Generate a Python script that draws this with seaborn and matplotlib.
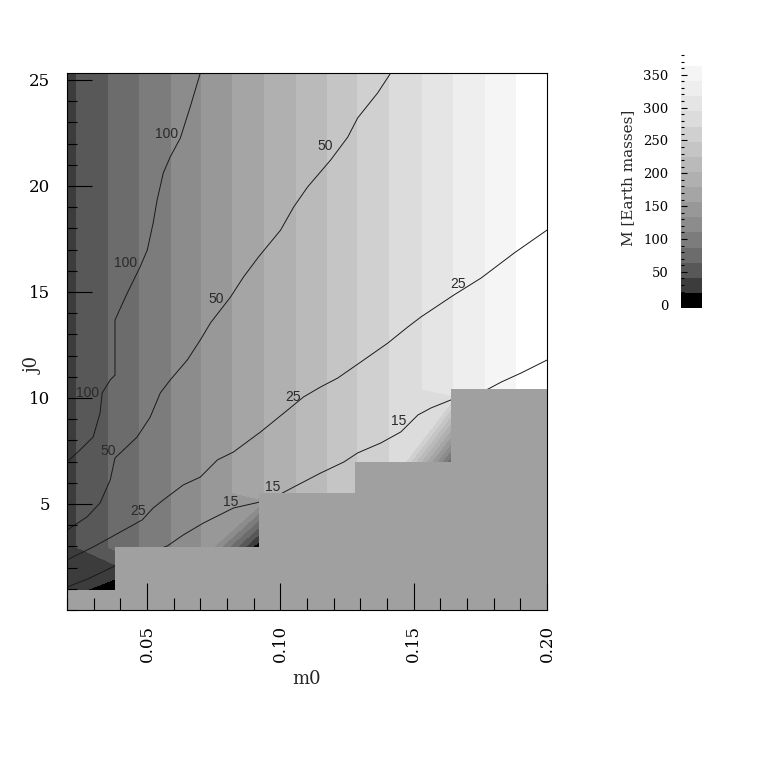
import numpy as np
import matplotlib
matplotlib.use("Agg")
import matplotlib.pyplot as plt
from matplotlib.colors import ListedColormap
from matplotlib.ticker import MultipleLocator
import seaborn as sns

sns.set_style("white")
plt.rcParams['font.family'] = ['DejaVu Serif']

# grid of the mass map (m0 along x, j0 along y)
m0_grid = [0.020, 0.038, 0.056, 0.074, 0.092, 0.110, 0.128, 0.146, 0.164, 0.182, 0.200]
j0_grid = [0.94, 2.97, 5.52, 6.98, 10.42, 25.5]

# M [Earth masses], 0 where there is no solution
M_grid = [
    [30, 0, 0, 0, 0, 0, 0, 0, 0, 0, 0],
    [34, 69, 104, 140, 0, 0, 0, 0, 0, 0, 0],
    [34, 69, 104, 140, 175, 210, 246, 0, 0, 0, 0],
    [34, 69, 104, 140, 175, 210, 246, 281, 70, 0, 0],
    [34, 69, 104, 140, 175, 210, 246, 281, 316, 351, 387],
    [34, 69, 104, 140, 175, 210, 246, 281, 316, 351, 387],
]
M_levels = [-5, 18, 41, 64, 87, 110, 133, 156, 179, 202, 225, 248, 271, 295, 318, 341, 364]
band_colors = ['#000000', '#3c3c3c', '#585858', '#6c6c6c', '#7c7c7c', '#8c8c8c',
               '#989898', '#a5a5a5', '#b0b0b0', '#bababa', '#c5c5c5', '#d0d0d0',
               '#dcdcdc', '#e5e5e5', '#eeeeee', '#f5f5f5']

# region without solutions (staircase)
mask_edges = [0.020, 0.038, 0.092, 0.128, 0.164, 0.200]
mask_top = [0.94, 2.97, 5.52, 6.98, 10.42]

# contour lines
t100_m0 = [0.0700, 0.0662, 0.0625, 0.0587, 0.0561, 0.0538, 0.0523, 0.0501, 0.0474, 0.0426,
           0.0380, 0.0380, 0.0362, 0.0332, 0.0324, 0.0298, 0.0249, 0.0200]
t100_j0 = [25.33, 23.73, 22.26, 21.37, 20.61, 19.34, 18.25, 16.98, 16.18, 14.95,
           13.68, 11.08, 10.85, 10.24, 9.29, 8.16, 7.55, 6.98]
t50_m0 = [0.1414, 0.1365, 0.1290, 0.1253, 0.1189, 0.1102, 0.1050, 0.1001, 0.0918, 0.0862,
          0.0813, 0.0738, 0.0700, 0.0651, 0.0587, 0.0550, 0.0512, 0.0463, 0.0380, 0.0362,
          0.0324, 0.0275, 0.0200]
t50_j0 = [25.33, 24.39, 23.21, 22.31, 21.23, 19.95, 19.01, 17.92, 16.65, 15.71,
          14.76, 13.54, 12.74, 11.79, 10.85, 10.24, 9.10, 8.16, 7.17, 6.13,
          5.05, 4.39, 3.77]
t25_m0 = [0.2000, 0.1877, 0.1753, 0.1651, 0.1527, 0.1478, 0.1403, 0.1302, 0.1215, 0.1151,
          0.1087, 0.1027, 0.0926, 0.0824, 0.0764, 0.0700, 0.0636, 0.0561, 0.0523, 0.0482,
          0.0380, 0.0298, 0.0200]
t25_j0 = [17.92, 16.84, 15.66, 14.86, 13.82, 13.35, 12.59, 11.70, 10.94, 10.52,
          10.05, 9.43, 8.40, 7.45, 7.08, 6.27, 5.90, 5.19, 4.81, 4.25,
          3.54, 2.97, 2.36]
t15_m0 = [0.2000, 0.1903, 0.1828, 0.1779, 0.1640, 0.1565, 0.1516, 0.1452, 0.1377, 0.1290,
          0.1238, 0.1151, 0.1050, 0.0993, 0.0922, 0.0824, 0.0711, 0.0636, 0.0576, 0.0474,
          0.0380, 0.0286, 0.0200]
t15_j0 = [11.79, 11.18, 10.75, 10.42, 9.91, 9.53, 9.20, 8.40, 7.88, 7.41,
          6.98, 6.46, 5.80, 5.42, 5.09, 4.81, 4.10, 3.54, 3.02, 2.55,
          2.08, 1.51, 1.08]

contour_lines = {100: (t100_m0, t100_j0), 50: (t50_m0, t50_j0),
                 25: (t25_m0, t25_j0), 15: (t15_m0, t15_j0)}
label_spots = {100: [(0.0572, 22.45), (0.0418, 16.37), (0.0276, 10.24)],
               50: [(0.1170, 21.89), (0.0760, 14.67), (0.0355, 7.50)],
               25: [(0.1666, 15.38), (0.1046, 10.05), (0.0467, 4.67)],
               15: [(0.0813, 5.09), (0.0971, 5.80), (0.1444, 8.92)]}

W = 771
fig = plt.figure(figsize=(7.71, 7.71), dpi=100)
ax = fig.add_axes([67 / W, (W - 610) / W, 480 / W, 537 / W])
ax.set_axisbelow(False)

ax.contourf(m0_grid, j0_grid, M_grid, levels=M_levels,
            colors=band_colors + ['#ffffff'], extend='max', zorder=0.5)

for lev, (xs, ys) in contour_lines.items():
    sns.lineplot(x=xs, y=ys, sort=False, estimator=None, color='#1a1a1a',
                 lw=0.7, ax=ax, zorder=1)
    for (lx, ly) in label_spots[lev]:
        ax.text(lx, ly, str(lev), ha='center', va='center', fontsize=10,
                family='Liberation Sans', color='#2a2a2a', zorder=3)

ax.stairs(mask_top, mask_edges, baseline=0, fill=True, color='#a0a0a0', zorder=2)

ax.set_xlim(0.02, 0.20)
ax.set_ylim(0, 25.33)
ax.set_xticks([0.05, 0.10, 0.15, 0.20])
ax.set_xticklabels(['0.05', '0.10', '0.15', '0.20'], rotation=90)
ax.set_yticks([5, 10, 15, 20, 25])
ax.xaxis.set_minor_locator(MultipleLocator(0.01))
ax.yaxis.set_minor_locator(MultipleLocator(1))
ax.tick_params(axis='x', which='major', direction='in', length=19.4, width=0.8,
               pad=11, labelsize=12, bottom=True, top=False, colors='black')
ax.tick_params(axis='x', which='minor', direction='in', length=8.6, width=0.8,
               bottom=True, top=False, colors='black')
ax.tick_params(axis='y', which='major', direction='in', length=18, width=0.8,
               pad=12, labelsize=12, left=True, right=False, colors='black')
ax.tick_params(axis='y', which='minor', direction='in', length=7.2, width=0.8,
               left=True, right=False, colors='black')
for s in ax.spines.values():
    s.set_color('black')
    s.set_linewidth(0.8)

ax.set_xlabel('m0', fontsize=13)
ax.xaxis.set_label_coords(0.5, -0.112)
ax.set_ylabel('j0', fontsize=13)
ax.yaxis.set_label_coords(-0.05, 0.456)

# colour bar
cax = fig.add_axes([681 / W, (W - 308) / W, 21 / W, 253 / W])
cax.set_axisbelow(False)
cax.pcolormesh([0, 1], M_levels, np.arange(len(band_colors)).reshape(-1, 1),
               cmap=ListedColormap(band_colors), vmin=-0.5, vmax=len(band_colors) - 0.5)
cax.set_xlim(0, 1)
cax.set_ylim(-5, 380)
cax.set_xticks([])
cax.set_yticks(range(0, 351, 50))
cax.yaxis.set_minor_locator(MultipleLocator(10))
cax.tick_params(axis='y', which='major', direction='in', length=4.3, width=0.8,
                pad=9, labelsize=9.5, left=True, colors='black')
cax.tick_params(axis='y', which='minor', direction='in', length=2.5, width=0.8,
                left=True, colors='black')
for s in cax.spines.values():
    s.set_visible(False)
cax.set_ylabel('M [Earth masses]', fontsize=11)
cax.yaxis.set_label_coords(-2.2, 0.514)

fig.savefig('out.png', dpi=100, facecolor='white')
